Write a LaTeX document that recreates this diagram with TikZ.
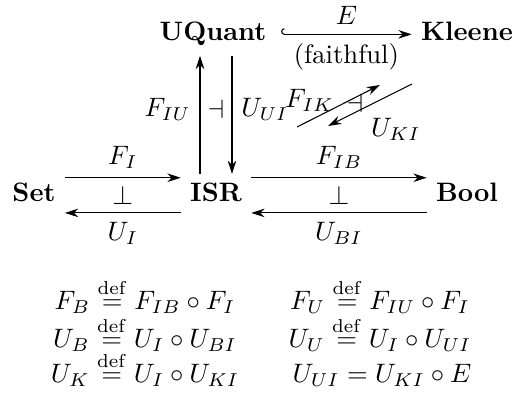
\documentclass[tikz,border=0pt]{standalone}
\usepackage{amsmath}
\usepackage{amssymb}
\usepackage{tikz}
\usetikzlibrary{arrows.meta}

\begin{document}
\begin{tikzpicture}[x=0.375pt,y=-0.375pt,>={Stealth[length=5pt,width=3.2pt]},
  cat/.style={anchor=base,font=\bfseries,text height=7pt,text depth=2pt},
  eqn/.style={anchor=base,inner sep=1pt,text height=7pt,text depth=1.5pt}]
\useasboundingbox (0,0) rectangle (522,398);
\node[cat] (uquant) at (213,41) {UQuant};
\node[cat] (kleene) at (467,41) {Kleene};
\node[cat] (set) at (34,202) {Set};
\node[cat] (isr) at (216,202) {ISR};
\node[cat] (bool) at (467,202) {Bool};
% Set -- ISR
\draw[->] ([yshift=6.6pt]set.east) -- ([yshift=6.6pt]isr.west) node[midway,above] {$F_I$};
\draw[->] ([yshift=-6.6pt]isr.west) -- ([yshift=-6.6pt]set.east) node[midway,below] {$U_I$};
\path (set.east) -- (isr.west) node[midway] (perpi) {$\perp$};
% ISR -- Bool
\draw[->] ([yshift=6.6pt]isr.east) -- ([yshift=6.6pt]bool.west) node[midway,above] {$F_{IB}$};
\draw[->] ([yshift=-6.6pt]bool.west) -- ([yshift=-6.6pt]isr.east) node[midway,below] {$U_{BI}$};
\path (isr.east) -- (bool.west) node[midway] (perpb) {$\perp$};
% ISR -- UQuant
\draw[->] ([xshift=-6pt]isr.north) -- ([xshift=-6pt]isr.north |- uquant.south) node[pos=0.55,left] {$F_{IU}$};
\draw[->] ([xshift=6pt]isr.north |- uquant.south) -- ([xshift=6pt]isr.north) node[pos=0.45,right] {$U_{UI}$};
\path (isr.north) -- (isr.north |- uquant.south) node[pos=0.55] (adju) {$\dashv$};
% UQuant -- Kleene
\draw[{Hooks[right]}->] ([xshift=2pt]uquant.east) -- (kleene.west)
  node[midway,above] {$E$} node[midway,below] {(faithful)};
% ISR -- Kleene
\coordinate (fik1) at (297,127);
\coordinate (fik2) at (380,85);
\coordinate (uki1) at (412,84);
\coordinate (uki2) at (328,126);
\draw[->] (fik1) -- (fik2) node[pos=0.15,above] {$F_{IK}$};
\draw[->] (uki1) -- (uki2) node[pos=0.6,below right] {$U_{KI}$};
\node (adjk) at (355,103) {$\dashv$};
% definitions
\node[eqn] (defb) at (145,310) {$F_B \stackrel{\mathrm{def}}{=} F_{IB}\circ F_I$};
\node[eqn] (defu) at (380,310) {$F_U \stackrel{\mathrm{def}}{=} F_{IU}\circ F_I$};
\node[eqn] (defub) at (145,348) {$U_B \stackrel{\mathrm{def}}{=} U_I\circ U_{BI}$};
\node[eqn] (defuu) at (380,348) {$U_U \stackrel{\mathrm{def}}{=} U_I\circ U_{UI}$};
\node[eqn] (defuk) at (145,383) {$U_K \stackrel{\mathrm{def}}{=} U_I\circ U_{KI}$};
\node[eqn] (equi) at (382,383) {$U_{UI} = U_{KI}\circ E$};
\end{tikzpicture}
\end{document}
